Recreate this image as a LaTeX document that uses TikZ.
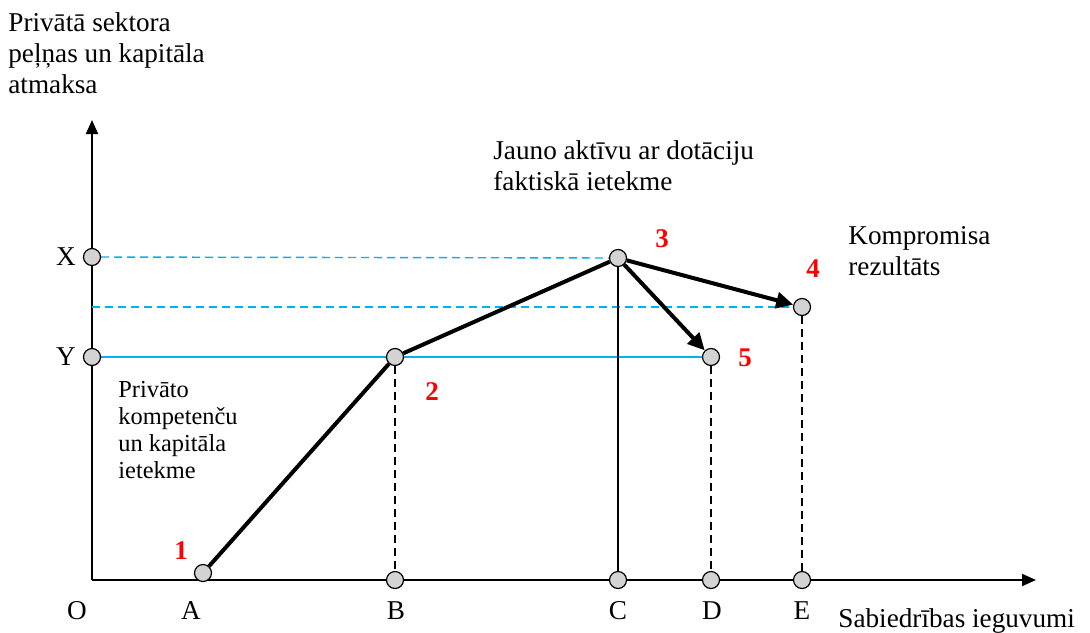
\documentclass[tikz,border=0pt]{standalone}
\usepackage{fontspec}
\setmainfont{Liberation Serif}
\usetikzlibrary{arrows.meta,backgrounds}
\definecolor{lineblue}{RGB}{0,176,240}
\definecolor{ptgray}{RGB}{211,211,211}
\definecolor{numred}{RGB}{255,0,0}
\begin{document}
\begin{tikzpicture}[x=0.5pt,y=-0.5pt,
  pt/.style={circle,draw=black,line width=0.6pt,fill=ptgray,minimum size=8.5pt,inner sep=0pt},
  txt/.style={font=\fontsize{13.6}{15.5}\selectfont,inner sep=0pt,align=left},
  smalltxt/.style={font=\fontsize{12.2}{13.5}\selectfont,inner sep=0pt,align=left},
  num/.style={font=\fontsize{13.5}{14}\selectfont\bfseries,text=numred,inner sep=0pt},
  axlabel/.style={font=\fontsize{13.6}{15.5}\selectfont,inner sep=0pt},
  axis/.style={line width=1pt,-{Triangle[length=7pt,width=6pt]}},
  thick path/.style={line width=2pt},
  thick arrow/.style={line width=2pt,-{Triangle[length=8.5pt,width=8pt]}},
  bluedash/.style={draw=lineblue,line width=0.7pt,dash pattern=on 4pt off 2.5pt},
  blueline/.style={draw=lineblue,line width=0.7pt},
  blackdash/.style={line width=0.65pt,dash pattern=on 4pt off 2.5pt},
  blackline/.style={line width=0.65pt}]
\useasboundingbox (0,0) rectangle (1090,632);

% axis coordinates
\coordinate (O) at (92,580);
\coordinate (ytip) at (92,120);
\coordinate (xtip) at (1036,580);
\coordinate (mid) at (92,307);

% points
\node[pt] (A) at (203,573) {};
\node[pt] (B) at (395,580) {};
\node[pt] (C) at (618,580) {};
\node[pt] (D) at (711,580) {};
\node[pt] (E) at (802,580) {};
\node[pt] (X) at (92,257) {};
\node[pt] (Y) at (92,357) {};
\node[pt] (P2) at (395,357) {};
\node[pt] (P3) at (618,258) {};
\node[pt] (P4) at (802,307) {};
\node[pt] (P5) at (711,357) {};

\begin{scope}[on background layer]
\draw[axis] (O) -- (ytip);
\draw[axis] (O) -- (xtip);
\draw[bluedash] (X) -- (P3);
\draw[bluedash] (mid) -- (P4);
\draw[blueline] (Y) -- (P5);
\draw[blackdash] (P2) -- (B);
\draw[blackline] (P3) -- (C);
\draw[blackdash] (P5) -- (D);
\draw[blackdash] (P4) -- (E);
\end{scope}

\draw[thick path] (A) -- (P2) -- (P3);
\draw[thick arrow] (P3) -- (P4);
\draw[thick arrow] (P3) -- (P5);

% axis labels
\node[axlabel] (lO) at (77,611) {O};
\node[axlabel] (lA) at (191,611) {A};
\node[axlabel] (lB) at (396,611) {B};
\node[axlabel] (lC) at (618,611) {C};
\node[axlabel] (lD) at (712,611) {D};
\node[axlabel] (lE) at (802,611) {E};
\node[axlabel] (lX) at (66,257) {X};
\node[axlabel] (lY) at (66,357) {Y};

% numbers
\node[num] (n1) at (181,551) {1};
\node[num] (n2) at (432,392) {2};
\node[num] (n3) at (662,239) {3};
\node[num] (n4) at (813,269) {4};
\node[num] (n5) at (745,358) {5};

% texts (base anchor = baseline of the last line)
\node[txt,anchor=base west] (ttop) at (8,93) {Privātā sektora\\peļņas un kapitāla\\atmaksa};
\node[txt,anchor=base west] (tjauno) at (493,190) {Jauno aktīvu ar dotāciju\\faktiskā ietekme};
\node[txt,anchor=base west] (tkomp) at (848,275) {Kompromisa\\rezultāts};
\node[smalltxt,anchor=base west] (tpriv) at (118,478) {Privāto\\kompetenču\\un kapitāla\\ietekme};
\node[txt,anchor=base west] (tsab) at (838,627) {Sabiedrības ieguvumi};
\end{tikzpicture}
\end{document}
